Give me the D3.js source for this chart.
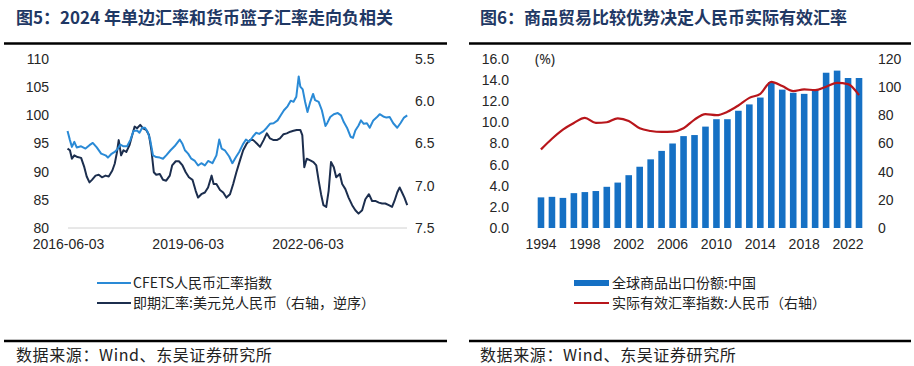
<!DOCTYPE html>
<html>
<head>
<meta charset="utf-8">
<script src="https://cdn.jsdelivr.net/npm/d3@7"></script>
<style>
  body { margin: 0; background: #fff; }
  svg { display: block; font-family: "Noto Sans", "Noto Sans CJK SC", sans-serif; }
</style>
</head>
<body>
<div id="chart"></div>
<script>
// ---- Fig 5 data: [decimal year, value] ----
const cfetsSeries = [
  [2016.41, 97.2], [2016.47, 95.6], [2016.52, 94.4], [2016.58, 95.3], [2016.64, 94.3], [2016.75, 94.5],
  [2016.86, 94.1], [2016.96, 94.7], [2017.04, 95.1], [2017.14, 94.3], [2017.25, 93.2], [2017.36, 92.9],
  [2017.42, 92.5], [2017.50, 93.1], [2017.59, 93.5], [2017.67, 94.1], [2017.73, 94.8], [2017.81, 94.5],
  [2017.90, 94.5], [2017.98, 95.6], [2018.06, 97.2], [2018.15, 97.3], [2018.21, 96.9], [2018.28, 97.8],
  [2018.35, 97.8], [2018.42, 97.0], [2018.48, 95.6], [2018.55, 92.9], [2018.63, 92.6], [2018.72, 92.5],
  [2018.80, 92.3], [2018.88, 92.9], [2018.99, 93.8], [2019.09, 94.5], [2019.22, 95.7], [2019.29, 94.9],
  [2019.35, 93.8], [2019.43, 93.2], [2019.51, 92.3], [2019.60, 91.9], [2019.68, 91.1], [2019.76, 91.5],
  [2019.85, 91.1], [2019.93, 91.9], [2020.04, 91.5], [2020.14, 92.9], [2020.21, 95.7], [2020.27, 94.1],
  [2020.35, 93.8], [2020.46, 92.7], [2020.54, 91.5], [2020.63, 92.6], [2020.71, 93.5], [2020.80, 94.8],
  [2020.88, 95.7], [2020.96, 95.3], [2021.05, 96.2], [2021.13, 96.9], [2021.21, 96.7], [2021.32, 97.2],
  [2021.40, 97.8], [2021.48, 98.5], [2021.57, 98.6], [2021.67, 99.1], [2021.75, 100.0], [2021.83, 100.9],
  [2021.92, 101.6], [2022.00, 102.6], [2022.07, 102.4], [2022.14, 103.3], [2022.20, 106.9], [2022.24, 105.1],
  [2022.30, 104.6], [2022.36, 102.4], [2022.42, 100.6], [2022.49, 102.4], [2022.56, 103.8], [2022.61, 102.7],
  [2022.70, 102.4], [2022.78, 100.9], [2022.87, 98.1], [2022.92, 98.7], [2022.99, 99.7], [2023.08, 100.2],
  [2023.18, 100.4], [2023.26, 100.0], [2023.33, 98.8], [2023.41, 97.8], [2023.50, 96.2], [2023.56, 96.0],
  [2023.62, 97.3], [2023.70, 98.2], [2023.76, 99.1], [2023.83, 98.5], [2023.91, 98.6], [2023.98, 97.8],
  [2024.07, 99.1], [2024.15, 99.6], [2024.23, 100.2], [2024.32, 99.8], [2024.40, 99.6], [2024.48, 99.7],
  [2024.57, 98.6], [2024.67, 97.8], [2024.75, 98.6], [2024.84, 99.6], [2024.92, 100.0]
];

const usdCnySeries = [
  [2016.41, 6.56], [2016.47, 6.58], [2016.52, 6.68], [2016.58, 6.64], [2016.66, 6.66], [2016.75, 6.67],
  [2016.83, 6.78], [2016.89, 6.89], [2016.96, 6.96], [2017.02, 6.93], [2017.11, 6.88], [2017.19, 6.87],
  [2017.27, 6.90], [2017.36, 6.88], [2017.44, 6.89], [2017.53, 6.82], [2017.59, 6.74], [2017.64, 6.62],
  [2017.69, 6.46], [2017.75, 6.64], [2017.81, 6.58], [2017.88, 6.60], [2017.96, 6.52], [2018.03, 6.40],
  [2018.09, 6.30], [2018.15, 6.32], [2018.23, 6.28], [2018.30, 6.32], [2018.38, 6.34], [2018.45, 6.40],
  [2018.51, 6.58], [2018.57, 6.84], [2018.63, 6.87], [2018.72, 6.86], [2018.80, 6.93], [2018.88, 6.94],
  [2018.97, 6.88], [2019.03, 6.76], [2019.12, 6.71], [2019.20, 6.71], [2019.29, 6.76], [2019.37, 6.84],
  [2019.45, 6.90], [2019.54, 6.93], [2019.62, 7.06], [2019.68, 7.14], [2019.76, 7.10], [2019.85, 7.08],
  [2019.93, 7.02], [2020.02, 6.88], [2020.07, 6.98], [2020.14, 6.98], [2020.23, 7.05], [2020.31, 7.08],
  [2020.39, 7.14], [2020.48, 7.10], [2020.56, 6.98], [2020.64, 6.84], [2020.73, 6.70], [2020.81, 6.58],
  [2020.90, 6.50], [2020.98, 6.46], [2021.06, 6.46], [2021.15, 6.50], [2021.23, 6.54], [2021.32, 6.46],
  [2021.40, 6.38], [2021.48, 6.44], [2021.57, 6.46], [2021.65, 6.46], [2021.73, 6.44], [2021.82, 6.39],
  [2021.90, 6.38], [2021.99, 6.36], [2022.07, 6.35], [2022.15, 6.34], [2022.24, 6.34], [2022.29, 6.40],
  [2022.34, 6.78], [2022.40, 6.68], [2022.49, 6.70], [2022.57, 6.72], [2022.64, 6.76], [2022.70, 6.94],
  [2022.76, 7.10], [2022.82, 7.23], [2022.89, 7.25], [2022.95, 7.06], [2023.01, 6.72], [2023.08, 6.78],
  [2023.14, 6.90], [2023.23, 6.86], [2023.29, 6.98], [2023.37, 7.04], [2023.45, 7.14], [2023.54, 7.23],
  [2023.62, 7.29], [2023.70, 7.33], [2023.79, 7.29], [2023.87, 7.16], [2023.96, 7.10], [2024.04, 7.18],
  [2024.12, 7.18], [2024.21, 7.20], [2024.29, 7.21], [2024.37, 7.21], [2024.46, 7.23], [2024.54, 7.25],
  [2024.60, 7.18], [2024.67, 7.08], [2024.73, 7.02], [2024.79, 7.08], [2024.85, 7.14], [2024.92, 7.23]
];

const fig5DateTicks = ["2016-06-03", "2019-06-03", "2022-06-03"];
const fig5LeftTicks = [80, 85, 90, 95, 100, 105, 110];
const fig5RightTicks = [5.5, 6.0, 6.5, 7.0, 7.5];

// ---- Fig 6 data ----
const years = d3.range(1994, 2024);
const exportShare = [2.9, 2.95, 2.85, 3.3, 3.4, 3.5, 3.9, 4.3, 5.0, 5.8, 6.5, 7.3, 8.0, 8.7, 8.8,
  9.6, 10.3, 10.3, 11.1, 11.7, 12.35, 13.8, 13.1, 12.8, 12.7, 13.05, 14.7, 14.9, 14.2, 14.2];
const reer = [55.8, 63.4, 69.9, 74.6, 78.2, 74.6, 75.1, 77.9, 76.0, 70.8, 68.9, 68.2, 68.4, 70.8, 77.0,
  80.8, 80.1, 82.5, 87.0, 92.4, 95.3, 103.8, 100.8, 97.2, 98.4, 97.9, 100.3, 103.1, 102.2, 94.3];
const fig6YearTicks = [1994, 1998, 2002, 2006, 2010, 2014, 2018, 2022];
const fig6LeftTicks = [0, 2, 4, 6, 8, 10, 12, 14, 16];
const fig6RightTicks = [0, 20, 40, 60, 80, 100, 120];

const titleColor = "#1f3864";
const cfetsColor = "#2a8ad6";
const usdColor = "#1c2e4e";
const barColor = "#1570c4";
const reerColor = "#b8161b";
const tickColor = "#262626";
const cjk = "'Noto Sans CJK SC', sans-serif";

const svg = d3.select("#chart").append("svg")
  .attr("width", 914)
  .attr("height", 366);

svg.append("rect").attr("width", 914).attr("height", 366).attr("fill", "#fff");

// decimal year -> Date
const toDate = t => {
  const y = Math.floor(t);
  return new Date(Date.UTC(y, 0, 1) + (t - y) * 365.25 * 864e5);
};
const parseDay = d3.utcParse("%Y-%m-%d");

// Frame: titles, rules and source lines
function frame(x0, x1, textX, title) {
  svg.append("text")
    .attr("x", textX).attr("y", 24)
    .attr("font-family", cjk).attr("font-weight", "bold")
    .attr("font-size", 17).attr("fill", titleColor)
    .text(title);
  svg.append("line").attr("x1", x0).attr("x2", x1).attr("y1", 43.5).attr("y2", 43.5)
    .attr("stroke", "#000").attr("stroke-width", 2.5);
  svg.append("line").attr("x1", x0).attr("x2", x1).attr("y1", 341).attr("y2", 341)
    .attr("stroke", "#000").attr("stroke-width", 2.5);
  svg.append("text")
    .attr("x", textX).attr("y", 361)
    .attr("font-family", cjk).attr("font-size", 16).attr("fill", "#222")
    .attr("letter-spacing", 0.6)
    .text("数据来源：Wind、东吴证券研究所");
}

frame(4, 447, 16, "图5：2024 年单边汇率和货币篮子汇率走向负相关");
frame(469, 911, 480, "图6：商品贸易比较优势决定人民币实际有效汇率");

function styleTicks(g, anchor) {
  g.select(".domain").remove();
  g.selectAll(".tick line").remove();
  g.selectAll(".tick text")
    .attr("font-size", 14)
    .attr("fill", tickColor)
    .attr("text-anchor", anchor);
}

// ===== Fig 5 =====
{
  const top = 59, bottom = 228;
  const x = d3.scaleUtc()
    .domain([parseDay("2016-06-03"), parseDay("2024-11-30")])
    .range([68, 407]);
  const yL = d3.scaleLinear().domain([80, 110]).range([bottom, top]);
  const yR = d3.scaleLinear().domain([5.5, 7.5]).range([top, bottom]); // reversed

  svg.append("line")
    .attr("x1", x.range()[0]).attr("x2", x.range()[1])
    .attr("y1", yL(80)).attr("y2", yL(80))
    .attr("stroke", "#d0d0d0").attr("stroke-width", 1);

  svg.append("g")
    .attr("transform", `translate(49,0)`)
    .call(d3.axisLeft(yL).tickValues(fig5LeftTicks).tickSize(0).tickPadding(0).tickFormat(d3.format("d")))
    .call(g => styleTicks(g, "end"));

  svg.append("g")
    .attr("transform", `translate(415,0)`)
    .call(d3.axisRight(yR).tickValues(fig5RightTicks).tickSize(0).tickPadding(0).tickFormat(d3.format(".1f")))
    .call(g => styleTicks(g, "start"));

  svg.append("g")
    .attr("transform", `translate(0,${bottom + 4})`)
    .call(d3.axisBottom(x).tickValues(fig5DateTicks.map(parseDay)).tickSize(0).tickPadding(7)
      .tickFormat(d3.utcFormat("%Y-%m-%d")))
    .call(g => styleTicks(g, "middle"));

  const lineL = d3.line().x(d => x(toDate(d[0]))).y(d => yL(d[1]));
  const lineR = d3.line().x(d => x(toDate(d[0]))).y(d => yR(d[1]));

  svg.append("path").datum(usdCnySeries)
    .attr("fill", "none").attr("stroke", usdColor).attr("stroke-width", 2)
    .attr("stroke-linejoin", "round").attr("d", lineR);
  svg.append("path").datum(cfetsSeries)
    .attr("fill", "none").attr("stroke", cfetsColor).attr("stroke-width", 2)
    .attr("stroke-linejoin", "round").attr("d", lineL);

  // Legend
  const leg = [
    {label: "CFETS人民币汇率指数", color: cfetsColor, y: 283},
    {label: "即期汇率:美元兑人民币（右轴，逆序）", color: usdColor, y: 303}
  ];
  leg.forEach(l => {
    svg.append("line").attr("x1", 97).attr("x2", 131).attr("y1", l.y).attr("y2", l.y)
      .attr("stroke", l.color).attr("stroke-width", 2);
    svg.append("text").attr("x", 133).attr("y", l.y + 5)
      .attr("font-family", cjk).attr("font-size", 14).attr("fill", "#222")
      .text(l.label);
  });
}

// ===== Fig 6 =====
{
  const top = 59, bottom = 228;
  const x = d3.scaleBand().domain(years).range([535.5, 864.5])
    .paddingInner(0.4).paddingOuter(0.2);
  const yL = d3.scaleLinear().domain([0, 16]).range([bottom, top]);
  const yR = d3.scaleLinear().domain([0, 120]).range([bottom, top]);

  svg.append("g")
    .attr("transform", `translate(509,0)`)
    .call(d3.axisLeft(yL).tickValues(fig6LeftTicks).tickSize(0).tickPadding(0).tickFormat(d3.format(".1f")))
    .call(g => styleTicks(g, "end"));

  svg.append("g")
    .attr("transform", `translate(878,0)`)
    .call(d3.axisRight(yR).tickValues(fig6RightTicks).tickSize(0).tickPadding(0).tickFormat(d3.format("d")))
    .call(g => styleTicks(g, "start"));

  svg.append("g")
    .attr("transform", `translate(0,${bottom + 4})`)
    .call(d3.axisBottom(x).tickValues(fig6YearTicks).tickSize(0).tickPadding(7))
    .call(g => styleTicks(g, "middle"));

  svg.append("text")
    .attr("x", 535).attr("y", yL(16) + 5)
    .attr("font-size", 14).attr("fill", tickColor)
    .text("(%)");

  svg.selectAll(".bar6")
    .data(years)
    .enter()
    .append("rect")
    .attr("class", "bar6")
    .attr("x", d => x(d))
    .attr("y", (d, i) => yL(exportShare[i]))
    .attr("width", x.bandwidth())
    .attr("height", (d, i) => yL(0) - yL(exportShare[i]))
    .attr("fill", barColor);

  const reerLine = d3.line()
    .x((d, i) => x(years[i]) + x.bandwidth() / 2)
    .y(d => yR(d))
    .curve(d3.curveMonotoneX);

  svg.append("path").datum(reer)
    .attr("fill", "none").attr("stroke", reerColor).attr("stroke-width", 2.2)
    .attr("d", reerLine);

  // Legend
  svg.append("rect").attr("x", 574).attr("y", 280).attr("width", 35).attr("height", 6)
    .attr("fill", barColor);
  svg.append("text").attr("x", 612).attr("y", 288)
    .attr("font-family", cjk).attr("font-size", 14).attr("fill", "#222")
    .text("全球商品出口份额:中国");
  svg.append("line").attr("x1", 574).attr("x2", 609).attr("y1", 303).attr("y2", 303)
    .attr("stroke", reerColor).attr("stroke-width", 2);
  svg.append("text").attr("x", 612).attr("y", 308)
    .attr("font-family", cjk).attr("font-size", 14).attr("fill", "#222")
    .text("实际有效汇率指数:人民币（右轴）");
}
</script>
</body>
</html>
